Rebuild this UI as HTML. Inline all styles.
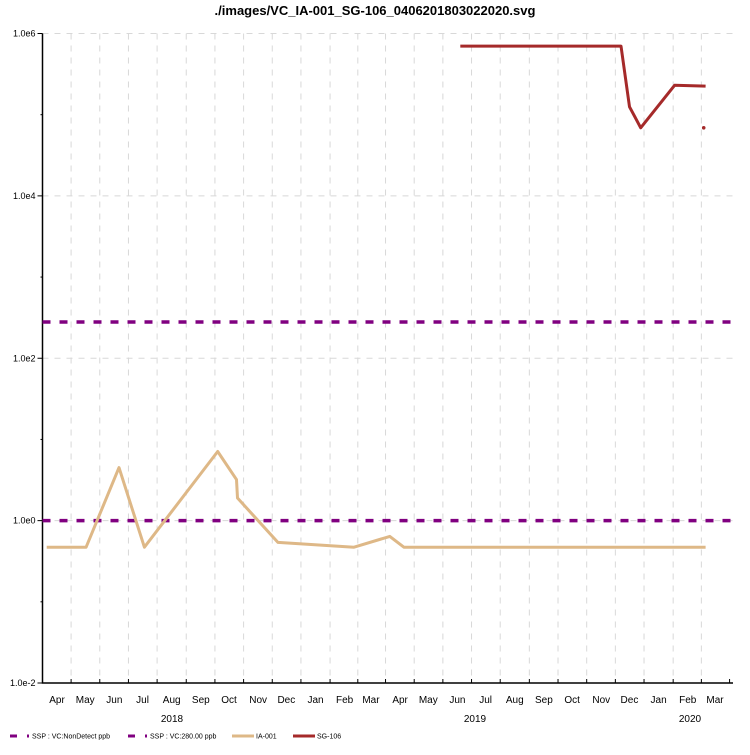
<!DOCTYPE html>
<html><head><meta charset="utf-8"><style>
body{margin:0;background:#fff;font-family:"Liberation Sans",sans-serif}
svg text{font-family:"Liberation Sans",sans-serif}
</style></head><body>
<svg id="chart" width="750" height="750" viewBox="0 0 750 750">
<text x="375" y="15" text-anchor="middle" font-size="13" font-weight="bold">./images/VC_IA-001_SG-106_0406201803022020.svg</text>
<g id="grid"></g><g id="axes"></g><g id="series"></g><g id="legend"></g>
</svg>
<script>
const monthLabels=["Apr","May","Jun","Jul","Aug","Sep","Oct","Nov","Dec","Jan","Feb","Mar","Apr","May","Jun","Jul","Aug","Sep","Oct","Nov","Dec","Jan","Feb","Mar"];
const yTickValues=[0.01,1,100,10000,1000000];
const yTickLabels=["1.0e-2","1.0e0","1.0e2","1.0e4","1.0e6"];
const iaDates=["2018-03-21","2018-05-02","2018-06-06","2018-07-03","2018-09-19","2018-10-09","2018-10-10","2018-11-22","2019-02-11","2019-03-21","2019-04-05","2020-02-20"];
const iaValues=[0.47,0.47,4.5,0.47,7.1,3.2,1.9,0.54,0.47,0.64,0.47,0.47];
const sgDates=["2019-06-04","2019-11-22","2019-12-01","2019-12-13","2020-01-18","2020-02-20"];
const sgValues=[700000,700000,125000,69000,230000,225000];
const sgDotDates=["2020-02-18"];
const sgDotValues=[69000];
const nondetectLevel=[1];
const sspLevel=[280];

const NS="http://www.w3.org/2000/svg";
const L=42.5,R=733,T=33.5,B=683;
const a0=Date.UTC(2018,3,1),a1=Date.UTC(2020,2,1),X0=57,X1=715;
const pxPerMs=(X1-X0)/(a1-a0);
function xs(d){const t=typeof d==="string"?Date.parse(d+"T00:00:00Z"):d;return X0+(t-a0)*pxPerMs;}
function ys(v){return B-(Math.log10(v)+2)/8*(B-T);}
function mk(tag,attrs,parent){const e=document.createElementNS(NS,tag);for(const k in attrs)e.setAttribute(k,attrs[k]);document.getElementById(parent).appendChild(e);return e;}
for(let i=0;i<monthLabels.length;i++){
  const ms=Date.UTC(2018,3+i,1),me=Date.UTC(2018,4+i,1);
  const x=(xs(ms)+xs(me))/2;
  if(i<monthLabels.length-1){
    const g=mk("line",{x1:x,x2:x,y1:T,y2:B,stroke:"#d8d8d8","stroke-dasharray":"6,6"},"grid");
    
    
  }
  const tk=mk("line",{x1:Math.min(x,R),x2:Math.min(x,R),y1:B-4,y2:B,stroke:"#000"},"axes");
  
  
  const tx=mk("text",{x:xs(ms),y:703,"text-anchor":"middle","font-size":"10"},"axes");
  tx.textContent=monthLabels[i];
  
  
}
[["2018",172],["2019",475],["2020",690]].forEach(([t,x])=>{const e=mk("text",{x:x,y:722,"text-anchor":"middle","font-size":"10"},"axes");e.textContent=t;

});
yTickValues.forEach((v,i)=>{const y=ys(v);
  if(v>0.01){const g=mk("line",{x1:L,x2:R,y1:y,y2:y,stroke:"#d8d8d8","stroke-dasharray":"6,6"},"grid");
  
  }
  const tk=mk("line",{x1:L-5,x2:L,y1:y,y2:y,stroke:"#000"},"axes");
  
  
  const tx=mk("text",{x:L-7,y:y+3,"text-anchor":"end","font-size":"9"},"axes");tx.textContent=yTickLabels[i];
  
  
});
[0.1,10,1000,100000].forEach(v=>{const y=ys(v);const tk=mk("line",{x1:L-2,x2:L,y1:y,y2:y,stroke:"#000"},"axes");

});
const ax=mk("path",{d:`M${L},${T}V${B}H${R}`,fill:"none",stroke:"#000","stroke-width":"1.5"},"axes");


function line(dates,vals,color,w,name){const d=dates.map((dt,i)=>(i?"L":"M")+xs(dt).toFixed(1)+","+ys(vals[i]).toFixed(1)).join("");
  const p=mk("path",{d:d,fill:"none",stroke:color,"stroke-width":w,"stroke-linejoin":"round"},"series");
  
  }
nondetectLevel.forEach(v=>{const p=mk("line",{x1:L,x2:R,y1:ys(v),y2:ys(v),stroke:"#800080","stroke-width":3.5,"stroke-dasharray":"8,9"},"series");

});
sspLevel.forEach(v=>{const p=mk("line",{x1:L,x2:R,y1:ys(v),y2:ys(v),stroke:"#800080","stroke-width":3.5,"stroke-dasharray":"8,9"},"series");

});
line(iaDates,iaValues,"#deb887",3,"ia-001-line");
line(sgDates,sgValues,"#a52a2a",3,"sg-106-line");
sgDotDates.forEach((d,i)=>{const c=mk("circle",{cx:xs(d),cy:ys(sgDotValues[i]),r:1.8,fill:"#a52a2a"},"series");

});
[["SSP : VC:NonDetect ppb",10,"#800080",true],["SSP : VC:280.00 ppb",128,"#800080",true],["IA-001",232,"#deb887",false],["SG-106",293,"#a52a2a",false]].forEach(([t,x,c,dash])=>{
  const g=mk("g",{},"legend");
  
  
  const a=document.createElementNS(NS,"path");
  a.setAttribute("d",dash?`M${x},736h7M${x+17},736h2`:`M${x},736h22`);
  a.setAttribute("stroke",c);a.setAttribute("stroke-width","3");g.appendChild(a);
  const tx=document.createElementNS(NS,"text");tx.setAttribute("x",dash?x+22:x+24);tx.setAttribute("y",738.5);tx.setAttribute("font-size","7");tx.textContent=t;g.appendChild(tx);
});
</script>
</body></html>
